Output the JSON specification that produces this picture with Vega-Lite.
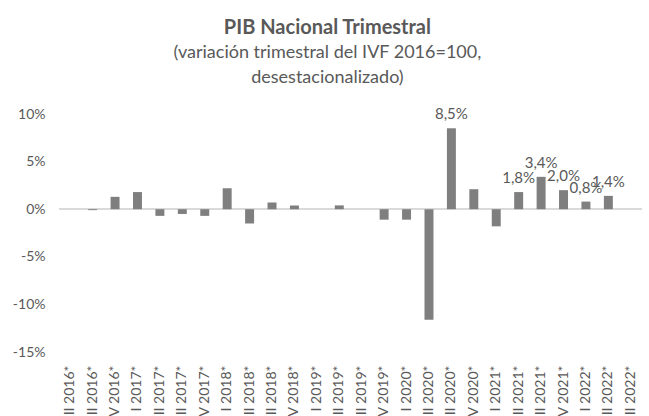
{
  "$schema": "https://vega.github.io/schema/vega-lite/v6.json",
  "autosize": {"type": "none"},
  "width": 583,
  "height": 238,
  "padding": {"left": 59, "top": 114, "right": 7, "bottom": 64},
  "background": "white",
  "title": {
    "text": "PIB Nacional Trimestral",
    "subtitle": ["(variación trimestral del IVF 2016=100,", "desestacionalizado)"],
    "anchor": "middle",
    "frame": "bounds",
    "font": "Lato",
    "fontSize": 20,
    "fontWeight": "bold",
    "color": "#595959",
    "subtitleFont": "Lato",
    "subtitleFontSize": 18,
    "subtitleColor": "#595959",
    "subtitleLineHeight": 25,
    "subtitlePadding": 6,
    "offset": 20
  },
  "data": {
    "values": [
      {"q": "II 2016*", "v": 0.0},
      {"q": "III 2016*", "v": -0.1},
      {"q": "IV 2016*", "v": 1.3},
      {"q": "I 2017*", "v": 1.8},
      {"q": "II 2017*", "v": -0.7},
      {"q": "III 2017*", "v": -0.5},
      {"q": "IV 2017*", "v": -0.7},
      {"q": "I 2018*", "v": 2.2},
      {"q": "II 2018*", "v": -1.5},
      {"q": "III 2018*", "v": 0.7},
      {"q": "IV 2018*", "v": 0.4},
      {"q": "I 2019*", "v": 0.0},
      {"q": "II 2019*", "v": 0.4},
      {"q": "III 2019*", "v": 0.0},
      {"q": "IV 2019*", "v": -1.1},
      {"q": "I 2020*", "v": -1.1},
      {"q": "II 2020*", "v": -11.6},
      {"q": "III 2020*", "v": 8.5, "label": "8,5%"},
      {"q": "IV 2020*", "v": 2.1},
      {"q": "I 2021*", "v": -1.8},
      {"q": "II 2021*", "v": 1.8, "label": "1,8%"},
      {"q": "III 2021*", "v": 3.4, "label": "3,4%"},
      {"q": "IV 2021*", "v": 2.0, "label": "2,0%"},
      {"q": "I 2022*", "v": 0.8, "label": "0,8%"},
      {"q": "II 2022*", "v": 1.4, "label": "1,4%"},
      {"q": "III 2022*", "v": 0.0}
    ]
  },
  "encoding": {
    "x": {
      "field": "q",
      "type": "nominal",
      "sort": null,
      "title": null,
      "scale": {"paddingInner": 0.6, "paddingOuter": 0.3},
      "axis": {
        "labelAngle": -90,
        "domain": false,
        "ticks": false,
        "labelPadding": 13,
        "labelFont": "Lato",
        "labelFontSize": 14,
        "labelColor": "#595959",
        "labelLimit": 200
      }
    },
    "y": {
      "field": "v",
      "type": "quantitative",
      "title": null,
      "scale": {"domain": [-15, 10], "nice": false},
      "axis": {
        "values": [-15, -10, -5, 0, 5, 10],
        "labelExpr": "datum.value + '%'",
        "domain": false,
        "ticks": false,
        "grid": false,
        "labelPadding": 14,
        "labelFont": "Lato",
        "labelFontSize": 14,
        "labelColor": "#595959"
      }
    }
  },
  "layer": [
    {
      "mark": {"type": "rule", "color": "#d9d9d9", "strokeWidth": 1},
      "encoding": {"y": {"datum": 0}, "x": null}
    },
    {
      "mark": {"type": "bar", "color": "#7f7f7f"}
    },
    {
      "transform": [{"filter": "datum.label != null"}],
      "mark": {"type": "text", "font": "Lato", "fontSize": 15, "color": "#595959", "baseline": "alphabetic", "dy": -9},
      "encoding": {"text": {"field": "label"}}
    }
  ],
  "config": {"view": {"stroke": null}}
}
